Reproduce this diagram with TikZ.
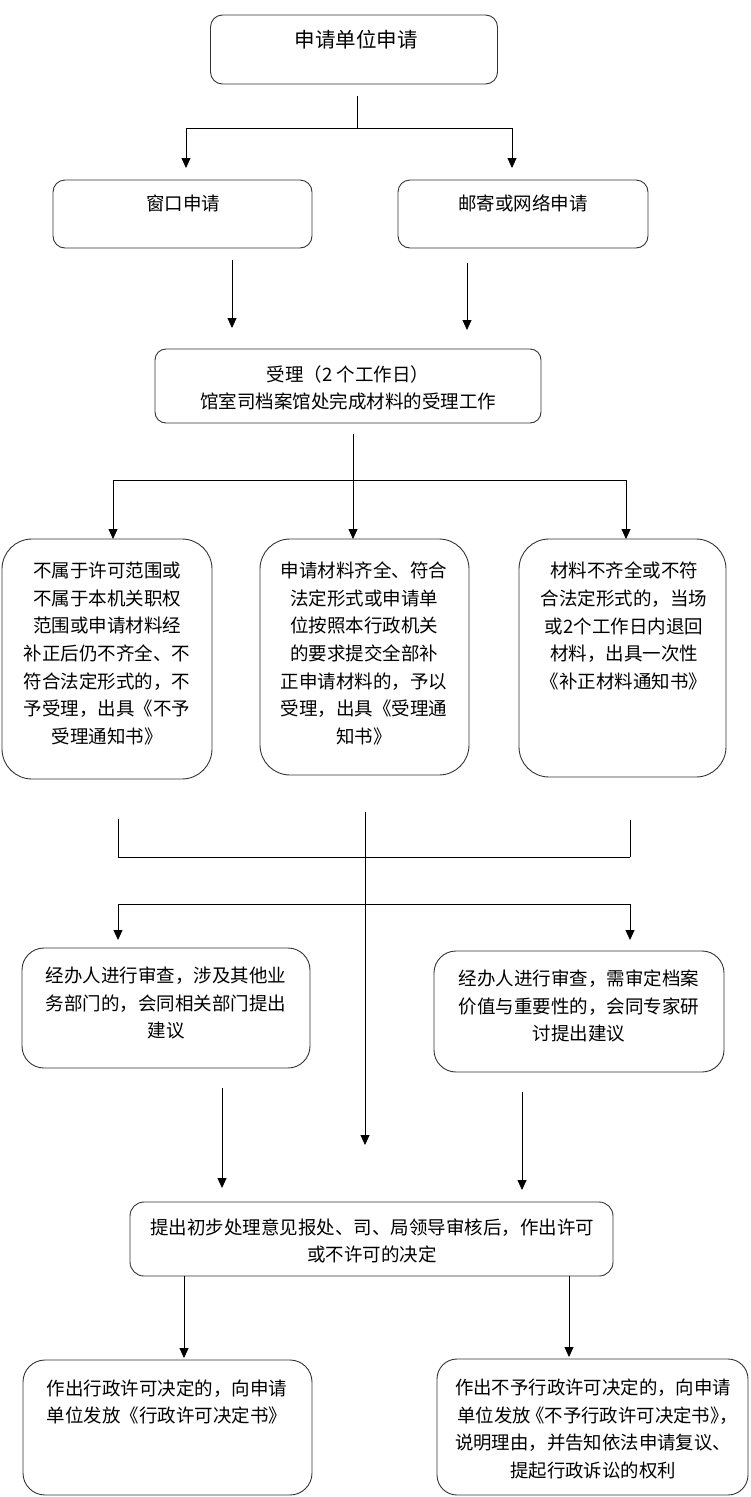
\documentclass[tikz,border=0pt]{standalone}
\usepackage{fontspec}
\newfontfamily\cjk{Noto Sans CJK SC}
\usetikzlibrary{arrows.meta}
\begin{document}
\begin{tikzpicture}[x=1pt,y=-1pt,
  box/.style={draw=black!80, line width=0.9pt, rounded corners=#1, inner sep=0pt, outer sep=0pt},
  box/.default=12pt,
  txt/.style={font=\cjk\fontsize{18.5}{27.7}\selectfont, align=center, inner sep=0pt, text=black},
  conn/.style={line width=0.8pt, draw=black},
  arr/.style={conn, -{Triangle[length=10pt,width=9pt]}}
]
\useasboundingbox (0,0) rectangle (750,1497);

% boxes
\node[box=12pt, minimum width=287pt, minimum height=69pt] (b1) at (354,49.5) {};
\node[box=12pt, minimum width=259pt, minimum height=68pt] (b2) at (182.5,214) {};
\node[box=12pt, minimum width=250pt, minimum height=68pt] (b3) at (523,214) {};
\node[box=11pt, minimum width=386pt, minimum height=74pt] (b4) at (348,386) {};
\node[box=30pt, minimum width=210pt, minimum height=240pt] (b5) at (107,659) {};
\node[box=30pt, minimum width=209pt, minimum height=236pt] (b6) at (364.5,657) {};
\node[box=30pt, minimum width=207pt, minimum height=238pt] (b7) at (622.5,658) {};
\node[box=22pt, minimum width=288pt, minimum height=120pt] (b8) at (166,1008) {};
\node[box=22pt, minimum width=290pt, minimum height=121pt] (b9) at (579,1011.5) {};
\node[box=14pt, minimum width=483pt, minimum height=74pt] (b10) at (371.5,1239) {};
\node[box=22pt, minimum width=289pt, minimum height=135pt] (b11) at (167.5,1427.5) {};
\node[box=20pt, minimum width=311pt, minimum height=136pt] (b12) at (592.5,1427) {};

% texts
\node[txt, font=\cjk\fontsize{20.5}{27.7}\selectfont] (t1) at (356,40) {申请单位申请};
\node[txt] (t2) at (183,203) {窗口申请};
\node[txt] (t3) at (523,203) {邮寄或网络申请};
\node[txt] (t4) at (348,388) {受理（2 个工作日）\\馆室司档案馆处完成材料的受理工作};
\node[txt] (t5) at (107,653.5) {不属于许可范围或\\不属于本机关职权\\范围或申请材料经\\补正后仍不齐全、不\\符合法定形式的，不\\予受理，出具《不予\\受理通知书》};
\node[txt] (t6) at (364,653.5) {申请材料齐全、符合\\法定形式或申请单\\位按照本行政机关\\的要求提交全部补\\正申请材料的，予以\\受理，出具《受理通\\知书》};
\node[txt] (t7) at (624,626) {材料不齐全或不符\\合法定形式的，当场\\或2个工作日内退回\\材料，出具一次性\\《补正材料通知书》};
\node[txt] (t8) at (166,1003) {经办人进行审查，涉及其他业\\务部门的，会同相关部门提出\\建议};
\node[txt] (t9) at (579,1006) {经办人进行审查，需审定档案\\价值与重要性的，会同专家研\\讨提出建议};
\node[txt] (t10) at (372,1241) {提出初步处理意见报处、司、局领导审核后，作出许可\\或不许可的决定};
\node[txt] (t11) at (167,1402) {作出行政许可决定的，向申请\\单位发放《行政许可决定书》};
\node[txt, font=\cjk\fontsize{18.4}{27.4}\selectfont] (t12) at (593,1429) {作出不予行政许可决定的，向申请\\单位发放\kern-.25em《不予行政许可决定书》\kern-.5em，\kern-.5em\\说明理由，并告知依法申请复议、\\提起行政诉讼的权利};

% connectors: top
\coordinate (s1) at (357,128);
\coordinate (h1l) at (186,128);
\coordinate (h1r) at (512,128);
\draw[conn, shorten <=12pt] (s1 |- b1.south) -- (s1);
\draw[conn] (h1l) -- (h1r);
\draw[arr, shorten >=12pt] (h1l) -- (h1l |- b2.north);
\draw[arr, shorten >=12pt] (h1r) -- (h1r |- b3.north);

\coordinate (a2) at (232,0);
\coordinate (a3) at (467,0);
\draw[arr, shorten <=12pt, shorten >=21pt] (a2 |- b2.south) -- (a2 |- b4.north);
\draw[arr, shorten <=15pt, shorten >=19pt] (a3 |- b3.south) -- (a3 |- b4.north);

% branch from b4
\coordinate (s2) at (353,480);
\coordinate (h2l) at (113,480);
\coordinate (h2r) at (626,480);
\draw[arr, shorten <=11pt] (s2 |- b4.south) -- (s2 |- b6.north);
\draw[conn] (h2l) -- (h2r);
\draw[arr] (h2l) -- (h2l |- b5.north);
\draw[arr] (h2r) -- (h2r |- b7.north);

% merge lines
\coordinate (v1) at (118,857);
\coordinate (v2) at (630,857);
\draw[conn, shorten <=40pt] (v1 |- b5.south) -- (v1);
\draw[conn, shorten <=43pt] (v2 |- b7.south) -- (v2);
\draw[conn] (v1) -- (v2);

\coordinate (c3) at (365,0);
\draw[arr, shorten <=37pt, shorten >=57pt] (c3 |- b6.south) -- (c3 |- b10.north);

\coordinate (h3l) at (118,904);
\coordinate (h3r) at (630,904);
\draw[conn] (h3l) -- (h3r);
\draw[arr, shorten >=8pt] (h3l) -- (h3l |- b8.north);
\draw[arr, shorten >=11pt] (h3r) -- (h3r |- b9.north);

\coordinate (a8) at (222,0);
\coordinate (a9) at (522,0);
\draw[arr, shorten <=20pt, shorten >=14pt] (a8 |- b8.south) -- (a8 |- b10.north);
\draw[arr, shorten <=20pt, shorten >=12pt] (a9 |- b9.south) -- (a9 |- b10.north);

\coordinate (a10l) at (184,0);
\coordinate (a10r) at (569,0);
\draw[arr, shorten >=2pt] (a10l |- b10.south) -- (a10l |- b11.north);
\draw[arr, shorten >=2pt] (a10r |- b10.south) -- (a10r |- b12.north);
\end{tikzpicture}
\end{document}
